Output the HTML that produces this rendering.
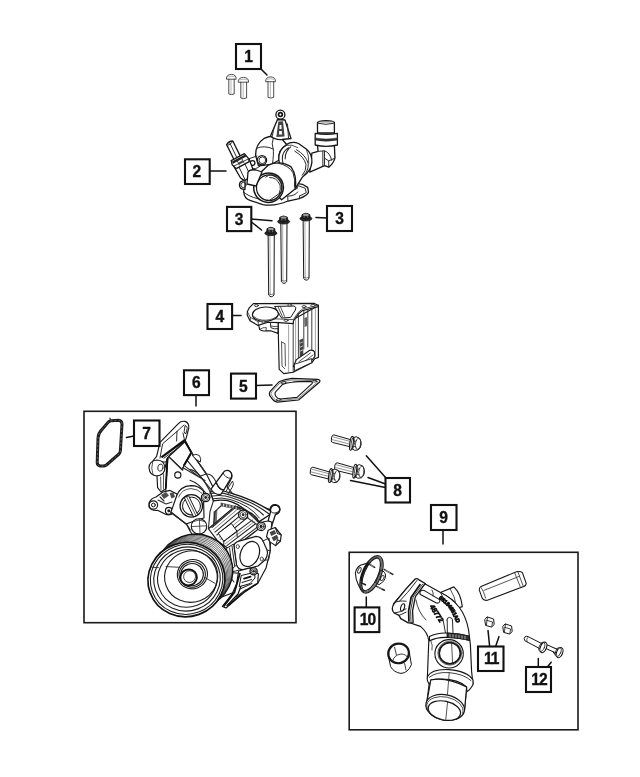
<!DOCTYPE html>
<html><head><meta charset="utf-8"><title>Water pump diagram</title>
<style>
html,body{margin:0;padding:0;background:#fff;}
svg{display:block;filter:grayscale(1)}
.lb rect{fill:#fff;stroke:#111;stroke-width:2.1}
.lb text{font-family:"Liberation Sans",sans-serif;font-weight:700;font-size:15.6px;fill:#111;text-anchor:middle;stroke:#111;stroke-width:.35px}
.lb text.d2{letter-spacing:-1px}
.ld{stroke:#111;stroke-width:1.5;fill:none;stroke-linecap:round}
.fr{fill:none;stroke:#1a1a1a;stroke-width:1.6}
.p{fill:#fff;stroke:#161616;stroke-width:1.15;stroke-linejoin:round;stroke-linecap:round}
.t{fill:none;stroke:#2a2a2a;stroke-width:.8;stroke-linejoin:round;stroke-linecap:round}
.g{fill:none;stroke:#888;stroke-width:.6;stroke-linecap:round}
.k{fill:#222;stroke:none}
</style></head>
<body>
<svg width="640" height="777" viewBox="0 0 640 777">
<rect width="640" height="777" fill="#fff"/>

<!-- FRAMES -->
<rect class="fr" x="84" y="411.3" width="212" height="211.4"/>
<rect class="fr" x="349.2" y="552.3" width="228.8" height="177.5"/>

<!-- LEADERS -->
<g class="ld">
<path d="M261 69 L267 75"/>
<path d="M210 171 H226"/>
<path d="M251.5 219 L272 220.8"/>
<path d="M251.5 222 L261.5 230"/>
<path d="M316 217.5 L327 218"/>
<path d="M232 315.5 H241"/>
<path d="M256 385.6 L272 385"/>
<path d="M196 396 V406"/>
<path d="M126.5 437.5 L134 436"/>
<path d="M366.3 455.8 L386 478"/>
<path d="M368 477.5 L385.5 484"/>
<path d="M350.5 480.5 L385.5 487.5"/>
<path d="M443 531 V544"/>
<path d="M366.3 597 V607"/>
</g>

<!-- PARTS -->
<g id="parts">
<!-- PART 1 screws -->
<g id="p1">
<g class="p" style="stroke-width:.9">
<path d="M228.8 78.6 V94 Q231.5 95.2 234.2 94 V78.6"/>
<path d="M226.4 78.8 Q226.2 74.6 231.4 74.4 Q236.4 74.6 236.2 78.8 Z"/>
<path d="M240.8 81.6 V98 Q243.6 99.3 246.6 98 V81.6"/>
<path d="M238.2 81.8 Q238 77.6 243.5 77.4 Q248.8 77.6 248.6 81.8 Z"/>
<path d="M268 81.2 V97.4 Q270.8 98.6 273.7 97.4 V81.2"/>
<path d="M265.6 81.3 Q265.4 77.1 270.6 76.9 Q275.7 77.1 275.5 81.3 Z"/>
</g>
<g class="g"><path d="M231 80 V93.5 M243.2 83 V97.5 M270.4 82.6 V96.8"/><path d="M228 76.8 Q231.4 75.6 235 76.8 M239.8 79.8 Q243.5 78.6 247.2 79.8 M267 79.3 Q270.6 78.1 274 79.3"/></g>
</g>

<!-- PART 2 thermostat housing -->
<g id="p2">
<style>.z *{vector-effect:non-scaling-stroke} #p2 .p{stroke-width:1.3} #p2 .t{stroke-width:1} #p1 .p{stroke:#3a3a3a;stroke-width:.85}</style>
<g class="z" transform="translate(250 130) scale(0.140625)">
<!-- base flange -->
<path class="p" d="M-40 330 L-45 440 Q-40 490 0 500 L90 530 Q180 545 270 505 L350 488 Q415 462 416 440 L410 408 L372 386 L330 380 Z"/>
<path class="t" d="M-45 440 Q-20 470 60 490 M270 505 L268 470 Q320 470 340 440 M340 395 L392 414 L400 446 L352 470 M350 488 L352 470"/>
<path class="k" d="M322 392 L345 398 L338 420 L318 425 Z" style="opacity:.8"/>
<!-- dome -->
<path class="p" d="M40 180 Q38 100 100 60 Q150 35 215 50 L262 105 Q200 140 205 215 L150 245 L60 255 Z"/>
<path class="t" d="M48 130 Q100 105 165 135 M165 60 Q150 100 165 135 Q170 170 160 240" style="stroke-width:1"/>
<!-- elbow + side pipe -->
<path class="p" d="M480 108 L600 108 L604 200 Q592 240 560 264 L530 254 L425 300 L440 165 L484 152 Z"/>
<path class="t" d="M484 152 L530 148 L530 254 M518 150 L518 258 M530 148 Q570 160 580 215 M604 200 L560 220 L530 200 M560 220 L560 264" style="stroke-width:1"/>
<!-- main cylinder -->
<path class="p" d="M258 104 Q300 76 345 96 L400 135 Q445 170 440 232 Q432 295 375 332 L318 420 L222 262 Q205 240 205 210 Q200 140 258 108 Z"/>
<path class="t" d="M275 126 Q228 150 230 210 Q232 236 242 252 M290 120 Q250 150 250 205" style="stroke-width:1.1"/>
<path class="t" d="M330 140 Q400 180 414 240 Q416 290 385 318 M318 150 Q385 190 398 245 Q402 290 372 322" style="stroke-width:1"/>
<path class="t" d="M258 108 Q300 100 340 125 M400 135 Q420 180 418 235" style="stroke-width:.8"/>
<!-- boss -->
<circle class="p" cx="85" cy="215" r="33"/>
<circle class="t" cx="88" cy="215" r="24"/>
<circle class="p" cx="18" cy="235" r="17"/>
<path class="t" d="M-10 205 L50 185 M0 270 Q40 290 80 250"/>
<!-- front pipe -->
<path class="p" d="M50 325 L130 250 Q215 212 292 262 Q338 330 320 420 L225 496 Z"/>
<path class="t" d="M200 236 Q275 250 306 305 Q325 355 316 405" style="stroke-width:1"/>
<ellipse class="p" cx="132" cy="410" rx="106" ry="104" transform="rotate(-30 132 410)" style="stroke-width:1.5"/>
<ellipse class="p" cx="136" cy="410" rx="90" ry="91" style="stroke-width:1.2"/>
<path class="t" d="M112 335 Q155 300 202 335 Q242 385 222 445 M140 338 Q190 335 214 392 Q220 420 208 450 M140 500 L222 442" style="stroke-width:1"/>
</g>
<!-- top bracket -->
<path class="p" d="M277.5 119.5 L270.5 136 Q275 140 282 139.5 L291 138.5 L285 120 Z"/>
<circle class="p" cx="280.4" cy="114.7" r="4.5"/>
<circle class="p" cx="280.4" cy="114.6" r="1.9" style="stroke-width:1.7"/>
<path class="k" d="M278.3 121.6 L283 121.2 L284.6 136.4 L276.4 137 Z" style="opacity:.85"/>
<path d="M279.6 125 L281.4 125 L281.6 129 L279.4 129 Z M279.2 131 L281.8 131 L282 134.6 L279 134.6 Z" fill="#fff" stroke="none"/>
<path class="t" d="M274 128 L272 137 M287.5 124 L288.5 138"/>
<path class="p" d="M317.5 122.5 V133 H334.4 V122.5 Q334 120.8 326 120.6 Q318 120.8 317.5 122.5 Z"/>
<path class="t" d="M317.5 123.2 Q326 125.6 334.4 123.2"/>
<path class="g" d="M319 122 Q326 123.6 333 122"/>
<path class="p" d="M315.2 133.4 Q326 135.4 337.4 133.4 V145 Q326 147.6 315.2 145 Z"/>
<path d="M315.2 138 Q326 140.2 337.4 138 V140 Q326 142.4 315.2 140 Z" fill="#333" stroke="#222" stroke-width=".5"/>
<!-- sensor -->
<path class="p" d="M233.4 165.6 L249 158.6 L253.2 170 Q253 175 249.6 177.6 L244.4 180.6 L240.6 178 Z"/>
<path class="t" d="M238 165 L245 179.6 M244 162 L250.6 176"/>
<path class="p" d="M226.6 144.6 Q228.6 141.2 232.8 141 L240.4 156.4 L234.2 160 Z"/>
<path class="t" d="M229.6 142.6 L237.2 158.4 M227.4 145.4 Q230 145 232.4 142.2"/>
<path class="p" d="M231.2 160.6 L244.4 153.6 L248.6 158.6 L249.2 161.6 L236.2 168.6 L232.2 164.8 Z"/>
<path class="k" d="M232 161.6 L245.2 154.6 L246.4 156.6 L233 163.8 Z"/>
<path class="t" d="M234 166 L248.6 158.8 M237.6 161.4 L239.4 165 M242 159 L243.8 162.6" style="stroke-width:.9"/>
<path class="k" d="M238.6 162.4 L242 160.6 L243 162.6 L239.6 164.4 Z" style="opacity:.7"/>
<!-- lower-left boss -->
<path class="p" d="M245 180.6 Q239.4 180.6 239.4 185 Q239.4 189.4 245 189.4 Z"/>
<circle class="t" cx="243.4" cy="185" r="2.6"/>
<path class="p" d="M248 172 Q250 169 256 170 L262 172 L256 186 L247 184 Z"/>
</g>

<!-- PART 3 long bolts -->
<g id="p3">
<path class="p" d="M303.1 218.6 L303.7 278.5 Q306.2 281.8 309.0 278.5 L309.3 218.6 Z" style="stroke-width:1"/>
<path class="g" d="M304.9 221.6 L305.3 278.0" style="stroke:#777"/>
<path class="t" d="M304.0 277.4 Q306.2 278.8 308.7 277.4" style="stroke-width:.6"/>
<ellipse cx="305.9" cy="218.6" rx="6.0" ry="2.4" fill="#2a2a2a" stroke="#111" stroke-width=".8"/>
<path d="M301.7 218.0 L302.0 214.6 Q305.9 211.8 309.8 214.6 L310.1 218.0 Q305.9 220.2 301.7 218.0 Z" fill="#222" stroke="#111" stroke-width=".8"/>
<ellipse cx="305.9" cy="214.9" rx="3.0" ry="1.2" fill="#999" stroke="none"/>
<path d="M304.2 216.2 V217.6 M307.6 216.2 V217.6" stroke="#aaa" stroke-width=".6" fill="none"/>
<path class="p" d="M280.8 221.6 L281.4 281.7 Q283.9 285.0 286.7 281.7 L287.0 221.6 Z" style="stroke-width:1"/>
<path class="g" d="M282.6 224.6 L283.0 281.2" style="stroke:#777"/>
<path class="t" d="M281.7 280.6 Q283.9 282.0 286.4 280.6" style="stroke-width:.6"/>
<ellipse cx="283.6" cy="221.6" rx="6.0" ry="2.4" fill="#2a2a2a" stroke="#111" stroke-width=".8"/>
<path d="M279.4 221.0 L279.7 217.3 Q283.6 214.5 287.5 217.3 L287.8 221.0 Q283.6 223.2 279.4 221.0 Z" fill="#222" stroke="#111" stroke-width=".8"/>
<ellipse cx="283.6" cy="217.6" rx="3.0" ry="1.2" fill="#999" stroke="none"/>
<path d="M281.9 218.9 V220.6 M285.3 218.9 V220.6" stroke="#aaa" stroke-width=".6" fill="none"/>
<path class="p" d="M268.1 233.2 L268.7 295.1 Q271.2 298.4 274.0 295.1 L274.3 233.2 Z" style="stroke-width:1"/>
<path class="g" d="M269.9 236.2 L270.3 294.6" style="stroke:#777"/>
<path class="t" d="M269.0 294.0 Q271.2 295.4 273.7 294.0" style="stroke-width:.6"/>
<ellipse cx="270.9" cy="233.2" rx="6.0" ry="2.4" fill="#2a2a2a" stroke="#111" stroke-width=".8"/>
<path d="M266.7 232.6 L267.0 228.6 Q270.9 225.8 274.8 228.6 L275.1 232.6 Q270.9 234.8 266.7 232.6 Z" fill="#222" stroke="#111" stroke-width=".8"/>
<ellipse cx="270.9" cy="228.9" rx="3.0" ry="1.2" fill="#999" stroke="none"/>
<path d="M269.2 230.2 V232.2 M272.6 230.2 V232.2" stroke="#aaa" stroke-width=".6" fill="none"/>
</g>

<!-- PART 4 housing -->
<g id="p4">
<!-- column body -->
<path class="p" d="M278 321 L279.2 369.4 L283.8 373.6 L293.2 372.2 L311.7 362.8 L314.6 358.8 L318.4 357.4 L318.4 305.4 L296 318 Z"/>
<path class="t" d="M293.2 320 L293.2 372 M298.4 313 V367 M303.8 310 V349 M307.8 308.6 V347 M311.8 307.6 V350" style="stroke-width:.9"/>
<path class="t" d="M281.6 342 L282 366 L284.6 368.6 M281.6 342 L285 343.6 L285.4 366"/>
<path class="g" d="M288.6 325 V372 M295.6 318 V369 M315.4 307 V356" style="stroke:#666"/>
<path class="k" d="M299.4 340 L303 338.6 L303.4 357 L299.8 358.6 Z" style="opacity:.85"/>
<path class="k" d="M304.4 318 L307 317 L307 326 L304.6 327 Z" style="opacity:.7"/>
<path class="g" d="M300.4 343 L302.4 342 M300.4 347 L302.4 346 M300.4 351 L302.6 350" style="stroke:#fff;stroke-width:.7"/>
<!-- lever bottom right -->
<path class="p" d="M296.4 359.6 L309.8 350.2 Q313.6 349.6 314.6 352 L314.8 356.6 L309.6 363 L297.4 368.6 L293.4 366.4 Z"/>
<path class="t" d="M299 361.6 L310.4 353 M300.4 364.6 L313 355 M297.4 368.6 L298 364.6"/>
<path class="p" d="M294.6 364.2 L311.6 358.6 L311.8 362.6 L294.8 370.6 Z" style="stroke-width:.9"/>
<!-- lower left bosses under flange -->
<path class="p" d="M258 322 L259.6 329.4 Q262 331.6 266 330.8 L270.6 330.8 L278 333.4 L278 321 Z"/>
<path class="p" d="M270.4 321.6 L270.8 327.6 Q274 329.6 278 328.6 L278 321.6 Z" style="stroke-width:.9"/>
<path class="t" d="M259.6 329.4 Q263 327 266.4 327.6 L266 330.6 M271 326 Q274 327 277.6 326.4"/>
<!-- top flange -->
<path class="p" d="M253.4 303.6 L314.4 303.4 L318.4 305.6 L318.4 306.6 L311.7 308.2 L302.4 310.6 L298.4 314 L293.4 321 L293.4 323.6 L279 322.6 L268 322.2 L258 325.4 L250 320.8 L247.2 315 L247.4 311.6 L249.4 307.6 Z"/>
<path class="t" d="M247.4 311.8 L250.4 317.4 L258.2 321.8 L268 318.6 L279 319 L293.2 319.6 L298.4 312.3 L302.4 309 L311.7 306.8 L318.4 305"/>
<path class="t" d="M258.2 321.8 V325.4 M268 318.6 V322 M293.4 320 V323.4 M250.4 317.4 V320.6"/>
<!-- main hole -->
<ellipse class="p" cx="265.4" cy="314.2" rx="13" ry="7.2" transform="rotate(-3 265.4 314.2)"/>
<path class="t" d="M254 316.6 Q258 320.6 266 320.2 Q274 319.6 277.6 315.6"/>
<!-- second opening -->
<path class="p" d="M275 306.4 L294 306 Q297 307 295.4 310 L290.6 317.4 L281.6 318 L278.4 313 Z" style="stroke-width:1"/>
<path class="t" d="M278 306.6 L282.4 316.6 M280.4 306.6 L284.6 316.4 M276.4 309 L279 313.6"/>
<!-- bolt holes -->
<g class="t" style="stroke-width:.9;fill:#fff">
<ellipse cx="256.4" cy="305.6" rx="2" ry="1"/>
<ellipse cx="289.6" cy="305" rx="2" ry="1"/>
<ellipse cx="313" cy="305.4" rx="2.2" ry="1.1"/>
<ellipse cx="304" cy="306.6" rx="2" ry="1"/>
<ellipse cx="263.6" cy="322" rx="2" ry="1"/>
<ellipse cx="286" cy="320.4" rx="2" ry="1"/>
</g>
</g>

<!-- PART 5 gasket -->
<g id="p5">
<path d="M279 381.8 Q285 379 292 378.4 L317.6 379.4 Q321 380 319.6 382 L298.6 400 L277.4 402.2 Q274 401.6 272.6 399.4 L269.6 395.4 Q268.8 393 270.2 391.4 Z" fill="#fff" stroke="#161616" stroke-width="1.2" stroke-linejoin="round"/>
<path d="M280 383 Q286 380.4 292 380 L316.6 380.6 Q318.4 381 317.4 382.2 L298 398.6 L278 400.8 Q275.4 400.4 274 398.6 L271.2 394.8 Q270.6 393.4 271.6 392 Z" fill="none" stroke="#333" stroke-width=".6" stroke-linejoin="round"/>
<path d="M282.4 384.6 Q287 382.6 292 382.2 Q296 381.4 310 381.4 Q313.4 381.8 312 383.6 L297 397.4 L280.4 399 Q277 398.6 276 396.6 L275 394.6 Q274.6 393 276 391.4 Z" fill="#fff" stroke="#161616" stroke-width="1.1" stroke-linejoin="round"/>
<ellipse class="t" cx="283.4" cy="382.6" rx="2.6" ry="1" transform="rotate(-12 283.4 382.6)"/>
<ellipse class="t" cx="314.6" cy="381.2" rx="2" ry=".9"/>
<ellipse class="t" cx="278.6" cy="399.6" rx="2.4" ry=".9" transform="rotate(-8 278.6 399.6)"/>
</g>

<!-- PART 7 gasket -->
<g id="p7">
<path d="M110 418 L110.6 421" stroke="#222" stroke-width="1.2" fill="none" stroke-linecap="round"/>
<path d="M102 429.4 L108.4 422 Q109.6 421 111.4 420.8 L118.6 420.2 Q121.8 420.4 122 424 L120.4 450.6 Q120.2 452.6 119 454 L106.4 465 Q105 466 103.4 466 L100 466 Q97.2 465.6 97.2 462.6 L98 438 Q98.4 433 102 429.4 Z" fill="#fff" stroke="#1c1c1c" stroke-width="3" stroke-linejoin="round"/>
<path d="M102 429.4 L108.4 422 Q109.6 421 111.4 420.8 L118.6 420.2 Q121.8 420.4 122 424 L120.4 450.6 Q120.2 452.6 119 454 L106.4 465 Q105 466 103.4 466 L100 466 Q97.2 465.6 97.2 462.6 L98 438 Q98.4 433 102 429.4 Z" fill="none" stroke="#999" stroke-width=".55" stroke-dasharray="2 2"/>
</g>

<!-- PART 6 water pump -->
<g id="p6">
<!-- main body silhouette -->
<path class="p" d="M168 457 L185 440 L191.4 452.4 L206.4 474 L213 487 L221 478 Q222 471.6 228 471.6 Q233 473 231.6 478 L227 487 L233 494 L252 503 L270 509.6 Q270.4 504.6 275.4 504.6 Q280.2 505.4 280 510 Q279 514 275 514.6 L272 520 L271 532 L270 552 L266 568 L258 583 L240 590 L214 600 L196 540 L190 531 L186.4 524 L170.4 512 L165.6 489 Z"/>
<!-- upper right detail (z-space tile 190,460 scale 6.4) -->
<g class="z" transform="translate(190 460) scale(0.15625)">
<!-- cylinder ribs -->
<path class="p" d="M118 440 L290 295 L372 330 L440 400 L440 440 L262 578 L180 522 Z" style="stroke-width:1.2"/>
<path class="t" d="M140 432 L292 302 M160 462 L325 322 M172 480 L340 340 M198 506 L372 365 M214 522 L398 385 M236 548 L420 408 M250 566 L436 426" style="stroke-width:1.1"/>
<path class="t" d="M150 446 L308 312 M186 494 L356 352 M226 536 L410 396" style="stroke-width:.7;stroke:#555"/>
<path class="p" d="M182 470 L216 520 L300 455 L266 408 Z" style="stroke-width:1"/>
<path class="t" d="M216 520 L216 560 M300 455 L302 490" style="stroke-width:1"/>
<!-- bridge -->
<path class="p" d="M128 200 Q200 188 262 212 Q330 232 390 258 Q460 290 524 332 L508 352 L440 396 Q420 350 372 330 L345 312 Q310 282 262 266 Q210 250 150 262 Z" style="stroke-width:1.4"/>
<path class="t" d="M128 214 Q200 204 262 226 Q330 246 386 272 Q450 302 506 346" style="stroke-width:1.2"/>
<path class="t" d="M135 232 Q205 220 262 240 Q328 260 380 288 Q430 312 470 352" style="stroke-width:1.1"/>
<path class="t" d="M145 248 Q208 236 262 254 Q320 272 366 300 Q410 326 445 372" style="stroke-width:1"/>
<path class="k" d="M196 272 L322 300 L326 322 L196 296 Z" style="opacity:.8"/>
<path d="M215 280 V298 M235 284 V302 M255 288 V306 M275 292 V310 M295 297 V314" stroke="#fff" stroke-width=".8" fill="none"/>
<path class="t" d="M150 262 L128 330 L118 440 M196 296 L160 330 L150 420" style="stroke-width:1.1"/>
<path class="k" d="M150 330 L175 318 L172 400 L150 415 Z" style="opacity:.65"/>
<!-- cylinder boss -->
<path class="p" d="M135 185 L168 142 Q185 190 216 192 L196 222 Q150 222 135 185 Z"/>
<path class="p" d="M168 142 L212 82 Q222 62 248 68 Q272 80 266 110 L216 192 Q185 190 168 142 Z" style="stroke-width:1.3"/>
<path class="t" d="M212 82 Q222 115 262 118" style="stroke-width:1"/>
<path class="t" d="M230 200 L272 135 Q285 150 270 175 L245 215" style="stroke-width:1"/>
<!-- bracket diagonal lines -->
<path class="t" d="M9 -49 L105 90 M-25 -5 L80 122" style="stroke-width:1.2"/>
<path class="t" d="M0 60 Q60 70 128 200 M0 130 Q60 150 100 212" style="stroke-width:1.1"/>
<path class="t" d="M105 90 Q140 85 168 142 M80 122 L132 186" style="stroke-width:1.1"/>
<!-- bolts -->
<circle class="p" cx="340" cy="350" r="29" style="stroke-width:1.3"/><circle class="t" cx="340" cy="350" r="19"/><circle class="k" cx="340" cy="350" r="9"/>
<circle class="p" cx="455" cy="425" r="27" style="stroke-width:1.3"/><circle class="t" cx="455" cy="425" r="18"/><circle class="k" cx="455" cy="425" r="10"/>
<path class="t" d="M370 372 L428 412 M366 330 L440 398" style="stroke-width:1.1"/>
<!-- right boss -->
<path class="p" d="M516 330 Q512 296 542 288 Q574 290 574 318 Q570 342 548 346 L530 400 L500 390 Z" style="stroke-width:1.3"/>
<path class="t" d="M520 332 Q540 352 572 326" style="stroke-width:1"/>
<path class="t" d="M500 390 L470 396 M530 400 L520 440" style="stroke-width:1.1"/>
<!-- connector clip -->
<path class="p" d="M500 450 L545 432 L584 480 L578 520 L548 548 L512 524 L490 490 Z" style="stroke-width:1.2"/>
<path class="k" d="M510 462 L540 448 L552 470 L520 486 Z" style="opacity:.85"/>
<path class="k" d="M522 496 L556 478 L566 500 L536 520 Z" style="opacity:.85"/>
<path class="t" d="M545 432 L560 470 L584 480 M548 548 L560 510 L578 520" style="stroke-width:1.1"/>
</g>
<!-- bracket upper left -->
<path class="p" d="M178.6 423.4 Q181 420.6 185 421.4 Q189.4 423 188.8 428 L186 438.6 L185 441 L168 457.4 L166 462 L152 462 L156.6 456.4 L160 442.4 Z"/>
<path class="t" d="M177 431.4 L162.6 443.8 L160 458 M177 431.4 L184 425 M177 431.4 L176.6 441 M183 433 L184.6 440.6" style="stroke-width:1"/>
<path class="p" d="M185.4 425.6 Q187.6 425.8 187.2 428.6 L186 433.4 Q184.4 434 184.2 432 Z" style="stroke-width:.9"/>
<path d="M161.4 457.4 L185 440" stroke="#111" stroke-width="2.2" fill="none"/>
<path d="M163.6 458.4 L185.6 442.6" stroke="#111" stroke-width=".9" fill="none"/>
<!-- triangular panel -->
<path class="p" d="M168.8 456.6 L185.2 441.6 L191.4 452.4 L183.8 465.4 L182.6 470 Z"/>
<path d="M185.2 441.8 L191.4 452.4 L184 465.4" stroke="#111" stroke-width="2" fill="none" stroke-linejoin="round"/>
<path class="t" d="M168.8 456.8 L182.6 470 M191.4 452.6 L206.4 473.8 M183.8 465.4 L199 476.6 L206.4 474 M182.6 467.6 L205 480.4" style="stroke-width:1.1"/>
<path class="p" d="M192.6 455.4 Q196 453 199.4 455.6 Q201.4 458.6 200.4 462 L197 460 Z" style="stroke-width:.9"/>
<!-- left boss -->
<path class="p" d="M157 460 Q149 461 149 468 Q149.6 475.6 157 476 Q165 475.6 165 468 Q164.6 460.4 157 460 Z"/>
<ellipse class="t" cx="160.4" cy="467.6" rx="2.6" ry="3.6" transform="rotate(12 160.4 467.6)" style="stroke-width:.9"/>
<path class="t" d="M152.6 462 Q150.6 468 153 474.6"/>
<!-- left vertical strip -->
<path class="p" d="M157 476 L157.6 487.6 L161 492 L165.6 489 L167.6 457.6 L165 468 Q164.6 475 157 476 Z"/>
<path d="M167.4 458 L165.8 488.6" stroke="#111" stroke-width="1.8" fill="none"/>
<path class="t" d="M160.6 477 L161 490 M163.6 474 L163.4 489"/>
<circle class="p" cx="177.8" cy="475" r="3.1"/>
<!-- left ear -->
<path class="p" d="M149 503 Q150.6 498.4 156 497 L163 492 L170 490.4 L177 494 L176 502 L174 512 Q170 516.4 165 514 L158 510.4 Q151 511 149 507 Z"/>
<circle class="p" cx="153.4" cy="505" r="4.2"/>
<circle class="p" cx="153.4" cy="505" r="1.9" style="stroke-width:1"/>
<circle class="p" cx="168.8" cy="510.8" r="3.4"/>
<circle class="k" cx="168.8" cy="510.8" r="1.5"/>
<path class="k" d="M161 495 L166 492 L169 495.6 L164 499 Z" style="opacity:.8"/>
<path class="k" d="M169.6 493 L173.6 492.4 L175 497 L171.4 498.6 Z" style="opacity:.8"/>
<path class="t" d="M158 500 L166 504 L172 502 M160 497 L164 501" style="stroke-width:1.1"/>
<!-- central boss -->
<path class="p" d="M176.6 496 Q180 486 191 485.6 Q199 485.6 203.4 491 L204 518 L200 519 L186 524 L171 512 Z"/>
<path class="t" d="M178.6 497 Q182 489 191 488.6 Q198 489 201.6 493"/>
<circle class="p" cx="191.3" cy="505.9" r="11.2" style="stroke-width:1.3"/>
<circle class="p" cx="191.5" cy="506.1" r="9" style="stroke-width:1"/>
<path class="p" d="M184.6 497.4 L188.6 495.8 L197.8 514.8 L194 516.8 Z" style="stroke-width:1"/>
<path class="t" d="M186.6 496.8 L196 515.8"/>
<path class="t" d="M182.6 508 Q185 514 192 515"/>
<!-- lower plug -->
<circle class="p" cx="199" cy="526.4" r="7.7"/>
<path class="t" d="M191.6 526.6 L206.6 525.8 M199.4 518.8 L200 534 M193.6 521.4 Q199 518.6 204.6 521.4"/>
<path class="t" d="M170.4 512 L186.4 524 L190.4 530" style="stroke-width:1.1"/>
<g class="z" transform="translate(190 460) scale(0.15625)"><circle class="p" cx="100" cy="240" r="27" style="stroke-width:1.3"/><circle class="t" cx="100" cy="240" r="18"/><circle class="k" cx="100" cy="240" r="9"/>
</g>
<!-- outlet flange -->
<path class="p" d="M234 545 Q236 541 241 540.6 L256 536.4 Q261 536.6 263 541 L267 550 Q268.6 555 265 560 L258 566 L243 569.6 Q238 569.6 236.6 565 Z"/>
<ellipse class="p" cx="249.8" cy="554" rx="9.2" ry="13" transform="rotate(22 249.8 554)" style="stroke-width:1.2"/>
<ellipse class="t" cx="237.8" cy="546.6" rx="1.6" ry="2"/>
<ellipse class="t" cx="261.8" cy="559" rx="1.6" ry="2"/>
<path class="t" d="M263 541 L269 538 L270.6 551 L267 550 M265 560 L268.6 560 L270 552" style="stroke-width:1"/>
<!-- lower right bracket -->
<path class="p" d="M238.6 571 L250 568 L258.4 574 L257.6 583.6 L244 592.6 L226 608 L222.4 606.4 L232 594 L236.6 584 Z"/>
<path d="M240 573 L234.4 592.4 L223.6 606.4" fill="none" stroke="#111" stroke-width="1.8" stroke-linejoin="round"/>
<path d="M244 578 L238 594 L226.6 606" fill="none" stroke="#111" stroke-width="1.2" stroke-linejoin="round"/>
<path d="M257 583.6 L243.6 592 L228 605.6" fill="none" stroke="#111" stroke-width="1.5" stroke-linejoin="round"/>
<path class="p" d="M241.6 575.4 L254.6 572.4 L255 578 L250 583.6 L239.6 586.6 Z" style="stroke-width:1"/>
<path d="M244 578.6 L250.6 576.6" stroke="#111" stroke-width="1.8" fill="none" stroke-linecap="round"/>
<path class="t" d="M242 582.6 L251.6 579.6 M240 589 L252 583.6 M236 597 L246 589.6" style="stroke-width:1.1"/>
<circle class="p" cx="253.6" cy="571.3" r="3.6" style="stroke-width:1.3"/><circle class="t" cx="253.6" cy="571.3" r="2.4"/><circle class="k" cx="253.6" cy="571.3" r="1.3"/>
<!-- left of flange connection to pulley -->
<path class="t" d="M226 552 L234 545 M228 560 L236.6 565 M222 560 L232 572 L239 570" style="stroke-width:1"/>
<path class="p" d="M227 548 L233.6 544 L236.4 565 L231 570 L226 562 Z" style="stroke-width:1"/>
<path class="t" d="M229.6 548 L232 567 M232 546 L234.6 565.6" style="stroke-width:1"/>
<path class="t" d="M224 566 Q230 574 238 573 M226 572 L234 582" style="stroke-width:1.1"/>
<!-- PULLEY -->
<ellipse cx="194.4" cy="571.4" rx="38.4" ry="37" transform="rotate(-20 194.4 571.4)" fill="#fff" stroke="#111" stroke-width="1.6"/>
<g fill="none" stroke="#2a2a2a" stroke-width=".62">
<ellipse cx="193.25" cy="572.55" rx="38.3" ry="36.9" transform="rotate(-20 193.25 572.55)"/>
<ellipse cx="192.10" cy="573.70" rx="38.3" ry="36.9" transform="rotate(-20 192.10 573.70)"/>
<ellipse cx="190.95" cy="574.85" rx="38.3" ry="36.9" transform="rotate(-20 190.95 574.85)"/>
<ellipse cx="189.80" cy="576.00" rx="38.3" ry="36.9" transform="rotate(-20 189.80 576.00)"/>
<ellipse cx="188.65" cy="577.15" rx="38.3" ry="36.9" transform="rotate(-20 188.65 577.15)"/>
<ellipse cx="187.50" cy="578.30" rx="38.3" ry="36.9" transform="rotate(-20 187.50 578.30)"/>
</g>
<ellipse cx="186.4" cy="579.6" rx="38.6" ry="37" transform="rotate(-20 186.4 579.6)" fill="#fff" stroke="#111" stroke-width="1.7"/>
<g fill="none" stroke="#1c1c1c" stroke-width="1.1">
<ellipse cx="186.6" cy="579.4" rx="36.4" ry="34.8" transform="rotate(-20 186.6 579.4)"/>
<ellipse cx="187" cy="579" rx="33.4" ry="31.8" transform="rotate(-20 187 579)"/>
<ellipse cx="187.4" cy="578.4" rx="30" ry="28.6" transform="rotate(-20 187.4 578.4)" stroke-width="1.1"/>
<ellipse cx="191.2" cy="576.6" rx="26.7" ry="25.6" transform="rotate(-20 191.2 576.6)" stroke-width="1.1"/>
<ellipse cx="192.4" cy="574.2" rx="15.1" ry="14.6" transform="rotate(-20 192.4 574.2)" stroke-width="1.1"/>
<ellipse cx="192.2" cy="574.4" rx="13.2" ry="12.8" transform="rotate(-20 192.2 574.4)"/>
<ellipse cx="192" cy="574.6" rx="11.4" ry="11" transform="rotate(-20 192 574.6)"/>
</g>
<ellipse cx="188.6" cy="577.4" rx="8.3" ry="7.9" transform="rotate(-20 188.6 577.4)" fill="#fff" stroke="#111" stroke-width="1.9"/>
<ellipse cx="189.6" cy="576.6" rx="6" ry="5.8" transform="rotate(-20 189.6 576.6)" fill="none" stroke="#333" stroke-width=".8"/>
<path class="t" d="M152 567.3 L158.4 567.6 M166 566.6 L179.5 567.3 M204.6 577.4 L215.3 583.5" style="stroke-width:.9"/>
</g>

<!-- PART 8 bolts -->
<g id="p8">
<defs>
<g id="b8">
<path class="p" d="M-0.8 -3.6 L-17.6 -8.4 Q-19.6 -8.2 -19.9 -6 L-20.2 -2.4 Q-20 -1 -18.8 -0.8 L-1.6 3.4 Z" style="stroke-width:1"/>
<path class="g" d="M-19 -3.6 L-1.6 0.8 M-18.6 -6.4 L-1 -1.8" style="stroke:#666;stroke-width:.7"/>
<path class="p" d="M1.6 -5.4 L4.6 -6.6 L8 -5 Q10 -2 9.6 1.6 Q9 5.4 6.6 6.6 L3 7 L0.8 5.6 Z" style="stroke-width:1"/>
<ellipse class="p" cx="0" cy="0" rx="1.7" ry="7" transform="rotate(8)" style="stroke-width:1.1"/>
<ellipse class="t" cx="1.2" cy="0.2" rx="1.5" ry="6.2" transform="rotate(8 1.2 0.2)" style="stroke-width:.8"/>
<ellipse class="t" cx="6.6" cy="0.4" rx="2.6" ry="5.6" transform="rotate(8 6.6 0.4)" style="stroke-width:.8"/>
<path class="t" d="M2.4 -1.6 L5 -2.6 M2 3 L4.6 3.8" style="stroke-width:.8"/>
</g>
</defs>
<use href="#b8" x="351.5" y="443.3"/>
<use href="#b8" x="354.8" y="471.2"/>
<use href="#b8" x="330.4" y="475.6"/>
</g>

<!-- PART 10 thermostat -->
<g id="p10">
<!-- right bulge -->
<path class="p" d="M381 570 Q385.6 571.6 385.6 576 Q385 581.6 379 584.6 L376 583 Z" style="stroke-width:1"/>
<ellipse class="t" cx="382.3" cy="578" rx="1.4" ry="2.8" transform="rotate(28 382.3 578)" style="stroke-width:.9"/>
<!-- pins -->
<g stroke="#222" stroke-width="1.6" stroke-linecap="round" fill="none">
<path d="M384.4 569.6 L392.8 574.4"/>
<path d="M376.6 586.4 L384.4 590.2"/>
</g>
<g stroke="#fff" stroke-width=".5" stroke-linecap="round" fill="none">
<path d="M385.4 570.2 L389.6 572.6"/>
<path d="M377.6 586.9 L381.6 588.8"/>
</g>
<!-- cup on the left -->
<path class="p" d="M369 562.6 L360.4 565.2 Q356 568 355.4 573 Q355.6 579 358 584 Q360 589 363 591.6 L372 580 Z" style="stroke-width:1.1"/>
<ellipse class="t" cx="359.4" cy="570.4" rx="1.4" ry="3" transform="rotate(24 359.4 570.4)" style="stroke-width:.9"/>
<ellipse cx="371" cy="574.4" rx="6.8" ry="17.4" transform="rotate(23 371 574.4)" fill="#fff" stroke="none"/>
<!-- ring -->
<g fill="none" stroke="#1c1c1c">
<ellipse cx="371.5" cy="574.4" rx="9.4" ry="20" transform="rotate(23 371.5 574.4)" stroke-width="1.2"/>
<ellipse cx="371.4" cy="574.4" rx="8.6" ry="19.2" transform="rotate(23 371.4 574.4)" stroke-width=".7" stroke="#333"/>
<ellipse cx="371.3" cy="574.4" rx="7.8" ry="18.4" transform="rotate(23 371.3 574.4)" stroke-width=".7" stroke="#333"/>
<ellipse cx="371.1" cy="574.4" rx="6.9" ry="17.5" transform="rotate(23 371.1 574.4)" stroke-width="1.2"/>
</g>
<!-- strap and pins -->
<path d="M368.6 563 Q362 571 361 581.4" fill="none" stroke="#111" stroke-width="1.5"/>
<g stroke="#222" stroke-width="1.6" stroke-linecap="round" fill="none">
<path d="M369 564 L374.6 567.4"/>
<path d="M361 582.6 L365.4 584.8"/>
</g>
<path d="M370 564.6 L373.4 566.7" stroke="#fff" stroke-width=".5" stroke-linecap="round"/>
</g>

<!-- PART 9 hose -->
<g id="p9">
<!-- nipple -->
<path class="p" d="M440.5 592.5 L453.9 586.9 Q458 591 459.6 595.4 Q461.6 600 462.3 606.6 L458.2 608 Q455 600.6 449.6 598.2 Z"/>
<path class="t" d="M450 588.6 Q455 596 456.6 607"/>
<!-- hose body -->
<path class="p" d="M415.2 579.2 L424.4 583.4 L440.5 592.5 Q452 598 459 607 Q466 616 468.6 630 L470.4 645 L471.6 671.4 L473 684 L466.8 687 L464.6 709.4 L426.6 703.8 L429.5 681.2 L427.4 677 L428.8 640.6 Q427.4 632 420.4 626.4 L407.5 622 L399 615 L394.2 612.2 L393.4 603.8 L406.2 589 Z"/>
<!-- flange (z-space tile 385,570 scale 7.111) -->
<g class="z" transform="translate(385 570) scale(0.140625)">
<path class="p" d="M215 64 Q226 58 242 70 L286 96 L216 190 L196 290 L200 374 L165 376 L112 346 L100 323 L66 306 Q50 292 52 272 Q55 250 70 232 L150 134 Z" style="stroke-width:1.3"/>
<path d="M252 100 L186 194 L168 290 L170 368" fill="none" stroke="#111" stroke-width="1.7" stroke-linejoin="round"/>
<path class="t" d="M268 100 L200 192 L182 290 L185 370" style="stroke-width:.9"/>
<path class="t" d="M228 74 L160 160 L100 225 M66 306 L110 296 L150 276 M100 323 L150 300 M70 232 Q95 215 150 222" style="stroke-width:1"/>
<ellipse class="p" cx="125" cy="266" rx="13" ry="27" transform="rotate(18 125 266)" style="stroke-width:1.1"/>
</g>
<!-- slot -->
<path class="p" d="M420.6 591 Q422.4 589.6 424.4 590.6 L439.6 599.6 Q440.6 601.4 439 602.6 Q437.6 603.6 436 602.8 L420.4 594.6 Q419.2 592.6 420.6 591 Z" style="stroke-width:1.1"/>
<!-- interior contour lines -->
<path class="t" d="M416 600 Q418 612 426 620 M432 590 Q434 593 433 596 M440.5 592.5 Q444 597 444 603" style="stroke-width:.9"/>
<path class="t" d="M443.2 620.6 L445.6 633.6 M446.8 620 Q447 617.4 449.6 617.4 Q452.4 617.8 452.5 620 L453 632.8 M447.2 620 L447.4 633.4" style="stroke-width:1"/>
<!-- text on hose -->
<text transform="translate(429.4 606.4) rotate(58)" font-family="'Liberation Sans',sans-serif" font-weight="700" font-size="7" fill="#111" stroke="#111" stroke-width=".75">48772</text>
<path id="hcurve" d="M438.4 598.8 Q446 603.6 450.1 609.8 Q454 616 456.6 623" fill="none" stroke="none"/>
<text font-family="'Liberation Sans',sans-serif" font-weight="700" font-size="5.4" fill="#111" stroke="#111" stroke-width=".9" letter-spacing="-.1"><textPath href="#hcurve">05184651AD</textPath></text>
<!-- clamp band -->
<path d="M429.4 636.6 Q437 632.6 447 633 Q460 633.6 469 636.2 L469.6 640.4 Q460 637.8 447 637.4 Q437 637 429.6 640.8 Z" fill="#fff" stroke="#111" stroke-width="1.1"/>
<path d="M447 633 Q460 633.6 469 636.2 L469.6 640.4 Q460 637.8 447 637.4 Z" fill="#333" stroke="#111" stroke-width=".8"/>
<path d="M450 634 V637.4 M453 634.2 V637.6 M456 634.4 V637.8 M459 634.8 V638.2 M462 635.2 V638.8 M465 635.8 V639.4" stroke="#ddd" stroke-width=".7" fill="none"/>
<path class="t" d="M431 641 Q433 645 432 650"/>
<!-- side port -->
<circle class="p" cx="449.1" cy="653.8" r="14.2" style="stroke-width:1.1"/>
<circle class="p" cx="449.8" cy="653.2" r="10.6" style="stroke-width:1.7"/>
<circle class="t" cx="449.8" cy="653.2" r="12" style="stroke-width:.7"/>
<path class="t" d="M451.6 642.8 L452.6 663.6" style="stroke-width:.8"/>
<!-- collar -->
<path class="p" d="M427.4 676.6 Q432 668.6 449 669.6 Q468 671.4 473 680 L473 684.6 Q470 690.4 466.8 691.6 L466.6 687 Q456 676.8 431 679.8 L429.6 684.4 Q426.6 681 427.4 676.6 Z"/>
<path class="t" d="M429.4 677.2 Q436 671.8 449 672.6 Q464 674 471 680.6" style="stroke-width:.9"/>
<!-- lower pipe -->
<path class="p" d="M430.8 680 Q446 676.6 466.6 687 L464.6 709.4 L426.6 703.8 Z"/>
<path class="t" d="M449.2 672.8 L445.6 717.8" style="stroke-width:.8"/>
<!-- end rim -->
<ellipse class="p" cx="445.2" cy="707.4" rx="19.6" ry="12.6" transform="rotate(12 445.2 707.4)" style="stroke-width:1.2"/>
<ellipse class="t" cx="445" cy="708.6" rx="18.6" ry="11.6" transform="rotate(12 445 708.6)" style="stroke-width:.8"/>
<ellipse class="p" cx="444.4" cy="710.6" rx="16.4" ry="9.4" transform="rotate(12 444.4 710.6)" style="stroke-width:1.2"/>
<path class="t" d="M447.6 701.6 L445.8 719.6" style="stroke-width:.8"/>
</g>

<!-- sleeve (unlabeled) -->
<g id="sleeve">
<path class="p" d="M388.2 655 L390.6 666.6 Q394 672.6 401 673.4 Q408 673 411.4 664.6 L409.4 653 Z" style="stroke-width:1"/>
<ellipse class="p" cx="398.6" cy="653.4" rx="10.4" ry="9.8" transform="rotate(-15 398.6 653.4)" style="stroke-width:2.2"/>
<path class="t" d="M392.6 661.6 Q393.6 655 401 654 Q406 654 408 658 M394.6 647.4 L396.4 654.8 M404.6 663.6 L406 670" style="stroke-width:.9"/>
</g>

<!-- rectangular tube -->
<g id="tube">
<path class="p" d="M481 586.4 L516.4 571.8 Q520.4 570.8 522.4 572.6 L526.2 583.4 Q526 586 523.6 586.6 L487.4 600.2 Q483.6 600.8 482.4 598.6 L479.4 590.4 Q479 587.6 481 586.4 Z" style="stroke-width:1.1"/>
<path class="t" d="M514.6 572.6 L520.6 587.6 M517.8 571.6 L523.4 586.6 M481.2 587.6 Q483.6 591 485.6 598 M484 590.4 L519.6 576.2" style="stroke-width:.8"/>
</g>

<!-- PART 11 nuts -->
<g id="p11">
<path class="p" d="M487.4 617 L493.6 619 L494.2 624.6 L491.6 627 L485.6 625.4 L484.8 620 Z" style="stroke-width:1"/>
<path class="t" d="M487 620.4 L492.6 622 L491.8 626.6 M487 620.4 L486.4 625.4 M487 620.4 L487.6 617.2" style="stroke-width:.9"/>
<path class="p" d="M505.4 624 L511.6 626 L512.2 631.6 L509.6 634 L503.6 632.4 L502.8 627 Z" style="stroke-width:1"/>
<path class="t" d="M505 627.4 L510.6 629 L509.8 633.6 M505 627.4 L504.4 632.4 M505 627.4 L505.6 624.2" style="stroke-width:.9"/>
<path class="ld" d="M488 630.4 L489.6 646 M499 636.6 L495.8 646"/>
</g>

<!-- PART 12 pins -->
<g id="p12">
<path class="p" d="M551 647.6 L554 653.6 L559 655.6 L560.6 650.6 Z" style="stroke-width:1"/>
<path class="p" d="M546 648.6 L558 653.8 L559.4 650.4 L547.6 645 Z" style="stroke-width:1"/>
<ellipse class="p" cx="559.6" cy="652.6" rx="3" ry="5.3" transform="rotate(22 559.6 652.6)" style="stroke-width:1.1"/>
<path class="p" d="M524.6 640.4 Q523.4 638.4 525 636.8 Q526.6 635.8 528 636.6 L542.6 644 L540.6 648.6 Z" style="stroke-width:1"/>
<path class="t" d="M527.6 637.6 Q526 639.6 527 641.6" style="stroke-width:.8"/>
<ellipse class="p" cx="543.4" cy="647.4" rx="3" ry="5.5" transform="rotate(22 543.4 647.4)" style="stroke-width:1.1"/>
<ellipse class="t" cx="541.9" cy="646.8" rx="2.6" ry="5" transform="rotate(22 541.9 646.8)" style="stroke-width:.8"/>
<ellipse class="t" cx="558.2" cy="652" rx="2.6" ry="4.8" transform="rotate(22 558.2 652)" style="stroke-width:.8"/>
<path class="ld" d="M538.3 658.4 V667 M551.2 662.2 L547.4 667"/>
</g>


</g>

<!-- LABELS -->
<g class="lb">
<rect x="236" y="44" width="25" height="25"/><text x="248.5" y="62.3">1</text>
<rect x="185" y="159.3" width="24.7" height="24.7"/><text x="196.9" y="176.6">2</text>
<rect x="227" y="206.9" width="24.3" height="24.2"/><text x="239" y="224.6">3</text>
<rect x="327" y="206" width="25" height="25"/><text x="339.5" y="224.2">3</text>
<rect x="207.5" y="304" width="24.6" height="25"/><text x="219.8" y="322">4</text>
<rect x="231" y="373.6" width="25" height="25"/><text x="243.4" y="391.6">5</text>
<rect x="184" y="370.3" width="25" height="24.8"/><text x="196.4" y="388.3">6</text>
<rect x="134" y="420.5" width="25.5" height="25.5"/><text x="146.7" y="439">7</text>
<rect x="385.5" y="478" width="24.5" height="24.5"/><text x="397.7" y="496">8</text>
<rect x="431" y="505" width="25.5" height="25"/><text x="443.7" y="523.2">9</text>
<rect x="354.6" y="607.4" width="24.7" height="24.7"/><text class="d2" x="367.4" y="625.3">10</text>
<rect x="478" y="646.5" width="25.5" height="24.5"/><text class="d2" x="491.2" y="664.3">11</text>
<rect x="526" y="667" width="25" height="25"/><text class="d2" x="539" y="685">12</text>
</g>
</svg>
</body></html>
